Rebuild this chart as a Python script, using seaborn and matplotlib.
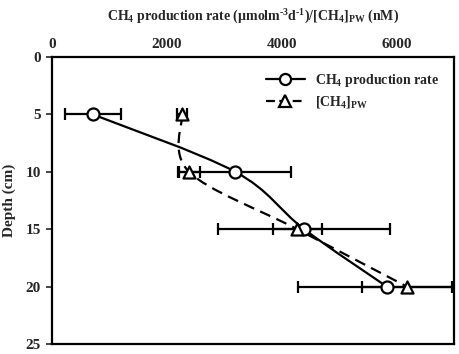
import numpy as np
import pandas as pd
import matplotlib
matplotlib.use("Agg")
import matplotlib.pyplot as plt
from matplotlib.path import Path
from matplotlib.patches import PathPatch
from matplotlib.lines import Line2D
import seaborn as sns

# data
depth = [5, 10, 15, 20]
prod_rate = [710, 3190, 4390, 5830]
prod_err = [490, 980, 1500, 1550]
ch4_pw = [2265, 2385, 4270, 6180]
ch4_err = [90, 190, 430, 780]

XMAX, YMAX = 7000, 25

sns.set_theme(style="ticks")
plt.rcParams['font.family'] = ['Liberation Serif', 'DejaVu Serif']
plt.rcParams['font.weight'] = 'bold'
plt.rcParams['mathtext.fontset'] = 'custom'
plt.rcParams['mathtext.rm'] = 'Liberation Serif:bold'
plt.rcParams['mathtext.it'] = 'Liberation Serif:bold'
plt.rcParams['mathtext.bf'] = 'Liberation Serif:bold'


def smooth_path(xs, ys, sx, sy):
    """Excel-like smoothed line: Bezier segments with Catmull-Rom control points,
    computed in screen-proportional space (sx, sy = px per data unit)."""
    P = np.column_stack([np.asarray(xs) * sx, np.asarray(ys) * sy])
    n = len(P)
    verts = [P[0]]
    codes = [Path.MOVETO]
    for i in range(n - 1):
        p0 = P[i - 1] if i > 0 else P[i]
        p1, p2 = P[i], P[i + 1]
        p3 = P[i + 2] if i + 2 < n else P[i + 1]
        c1 = p1 + (p2 - p0) / 6.0
        c2 = p2 - (p3 - p1) / 6.0
        verts += [c1, c2, p2]
        codes += [Path.CURVE4] * 3
    verts = np.array(verts)
    verts[:, 0] /= sx
    verts[:, 1] /= sy
    return Path(verts, codes)


fig = plt.figure(figsize=(4.59, 3.54), dpi=100)
ax = fig.add_axes([52 / 459, 1 - 344 / 354, 402 / 459, 287 / 354])

sx = 402 / XMAX
sy = 287 / YMAX

# smoothed connecting lines
ax.add_patch(PathPatch(smooth_path(prod_rate, depth, sx, sy), fill=False,
                       edgecolor='black', lw=1.6, zorder=2))
ax.add_patch(PathPatch(smooth_path(ch4_pw, depth, sx, sy), fill=False,
                       edgecolor='black', lw=1.6, linestyle=(0, (5, 3)), zorder=2))

# horizontal error bars
ax.errorbar(prod_rate, depth, xerr=prod_err, fmt='none', ecolor='black',
            elinewidth=1.6, capsize=4.5, capthick=1.6, zorder=3)
ax.errorbar(ch4_pw, depth, xerr=ch4_err, fmt='none', ecolor='black',
            elinewidth=1.6, capsize=4.5, capthick=1.6, zorder=3)

# markers
df = pd.DataFrame({'depth': depth, 'prod': prod_rate, 'pw': ch4_pw})
sns.scatterplot(data=df, x='prod', y='depth', marker='o', s=75, color='white',
                edgecolor='black', linewidth=1.6, zorder=4, ax=ax, legend=False)
sns.scatterplot(data=df, x='pw', y='depth', marker='^', s=75, color='white',
                edgecolor='black', linewidth=1.6, zorder=4, ax=ax, legend=False)

ax.set_xlim(0, XMAX)
ax.set_ylim(YMAX, 0)
ax.set_xticks([0, 2000, 4000, 6000])
ax.set_yticks([0, 5, 10, 15, 20, 25])
ax.xaxis.tick_top()
ax.xaxis.set_label_position('top')
ax.tick_params(axis='x', length=0, pad=4.5, labelsize=11)
ax.tick_params(axis='y', length=4, width=1.2, pad=4, labelsize=11, direction='out')
for lab in ax.get_xticklabels() + ax.get_yticklabels():
    lab.set_fontweight('bold')

for sp in ax.spines.values():
    sp.set_linewidth(1.6)
    sp.set_color('black')
    sp.set_visible(True)

ax.set_xlabel(r'CH$_4$ production rate (μmolm$^{\text{-3}}$d$^{\text{-1}}$)/[CH$_4$]$_{\mathrm{PW}}$ (nM)',
              fontsize=10, fontweight='bold', labelpad=12)
ax.set_ylabel('Depth (cm)', fontsize=11, fontweight='bold', labelpad=7)

handles = [
    Line2D([], [], color='black', lw=1.6, marker='o', markersize=8,
           markerfacecolor='white', markeredgecolor='black', markeredgewidth=1.6),
    Line2D([], [], color='black', lw=1.6, linestyle=(0, (4, 2)), marker='^',
           markersize=8, markerfacecolor='white', markeredgecolor='black',
           markeredgewidth=1.6),
]
ax.legend(handles, [r'CH$_4$ production rate', r'[CH$_4$]$_{\mathrm{PW}}$'],
          loc='upper right', frameon=False, handlelength=2.8, handletextpad=0.7,
          labelspacing=0.35, borderaxespad=0.7,
          prop={'weight': 'bold', 'size': 10})

fig.savefig('out.png', dpi=100)
